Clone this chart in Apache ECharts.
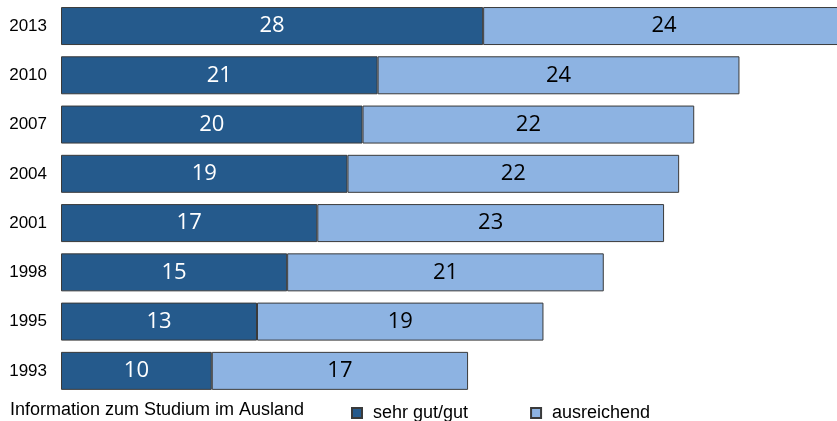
<!DOCTYPE html>
<html>
<head>
<meta charset="utf-8">
<script src="https://cdn.jsdelivr.net/npm/echarts@6/dist/echarts.min.js"></script>
<style>
  html, body { margin: 0; padding: 0; background: #ffffff; overflow: hidden; }
  /* the canvas is a bit wider than the page, so the longest bar runs off the right edge */
  #chart { width: 860px; height: 421px; }
</style>
</head>
<body>
<div id="chart"></div>
<script>
// Survey years, listed bottom to top
const years = ['1993', '1995', '1998', '2001', '2004', '2007', '2010', '2013'];
// Share rating the information as "sehr gut/gut" (percent)
const sehrGutGut = [10, 13, 15, 17, 19, 20, 21, 28];
// Share rating the information as "ausreichend" (percent)
const ausreichend = [17, 19, 21, 23, 22, 22, 24, 24];

const seriesNames = ['sehr gut/gut', 'ausreichend'];
const captionText = 'Information zum Studium im Ausland';

const chart = echarts.init(document.getElementById('chart'));

const barBorder = { borderColor: '#3a3a3a', borderWidth: 1 };

chart.setOption({
  animation: false,
  backgroundColor: '#ffffff',
  grid: { left: 61, top: 1.4, width: 784, bottom: 25.5, containLabel: false },
  xAxis: {
    type: 'value', min: 0, max: 52,
    show: false
  },
  yAxis: {
    type: 'category', data: years,
    axisLine: { show: false }, axisTick: { show: false },
    axisLabel: { color: '#000', fontFamily: 'Liberation Sans', fontSize: 17, margin: 14 }
  },
  legend: {
    data: seriesNames,
    left: 346, top: 399,
    icon: 'rect', itemWidth: 10, itemHeight: 10, itemGap: 62,
    textStyle: { color: '#000', fontFamily: 'Liberation Sans', fontSize: 18, padding: [0, 0, 0, 6] }
  },
  graphic: [{
    type: 'text', left: 10, top: 401,
    style: { text: captionText, fill: '#000', font: '18px "Liberation Sans"' }
  }],
  series: [
    {
      name: seriesNames[0], type: 'bar', stack: 'total', data: sehrGutGut,
      barWidth: 38,
      itemStyle: Object.assign({ color: '#255a8c' }, barBorder),
      label: { show: true, position: 'inside', color: '#fff', fontFamily: 'Open Sans', fontSize: 22 }
    },
    {
      name: seriesNames[1], type: 'bar', stack: 'total', data: ausreichend,
      barWidth: 38,
      itemStyle: Object.assign({ color: '#8db3e2' }, barBorder),
      label: { show: true, position: 'inside', color: '#000', fontFamily: 'Open Sans', fontSize: 22 }
    }
  ]
});
</script>
</body>
</html>
